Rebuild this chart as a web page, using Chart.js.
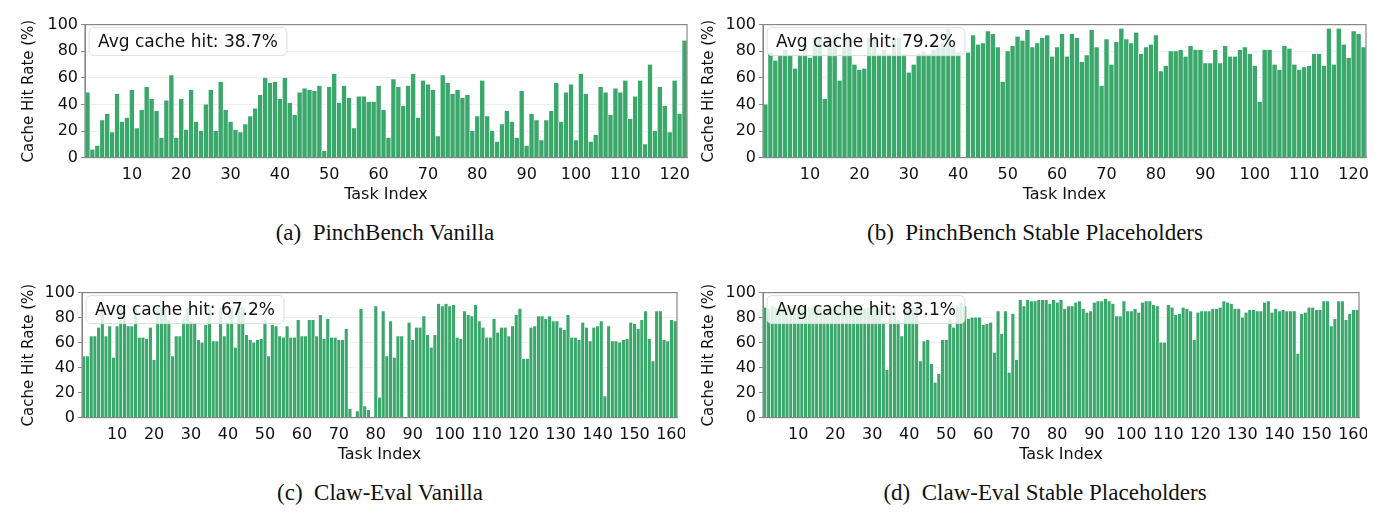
<!DOCTYPE html>
<html>
<head>
<meta charset="utf-8">
<script src="https://cdn.jsdelivr.net/npm/chart.js@4"></script>
<style>
  body { margin: 0; background: #fff; width: 1400px; height: 529px; position: relative; overflow: hidden; }
  .panel { position: absolute; }
  .cap { position: absolute; font-family: "Liberation Serif", "DejaVu Serif", serif; font-size: 23px; color: #111; text-align: center; white-space: nowrap; }
</style>
</head>
<body>
<div class="panel" style="left:20px;top:12px;width:675px;height:192px"><canvas id="a"></canvas></div>
<div class="panel" style="left:700px;top:12px;width:674px;height:192px"><canvas id="b"></canvas></div>
<div class="panel" style="left:20px;top:280px;width:665px;height:184px"><canvas id="c"></canvas></div>
<div class="panel" style="left:700px;top:280px;width:667px;height:184px"><canvas id="d"></canvas></div>
<div class="cap" style="left:185px;width:400px;top:220px">(a)&nbsp; PinchBench Vanilla</div>
<div class="cap" style="left:835px;width:400px;top:220px">(b)&nbsp; PinchBench Stable Placeholders</div>
<div class="cap" style="left:180px;width:400px;top:480px">(c)&nbsp; Claw-Eval Vanilla</div>
<div class="cap" style="left:845px;width:400px;top:480px">(d)&nbsp; Claw-Eval Stable Placeholders</div>
<script>
const yTicks = [0, 20, 40, 60, 80, 100];

const pinchVanilla = [
  49,6,9,28,33,19,48,27,30,51, 22,36,53,44,35,15,43,62,15,44,
  21,51,27,20,40,51,20,57,36,27, 21,19,25,31,37,47,60,56,57,44,
  60,41,32,49,52,51,50,54,5,53, 63,41,54,45,22,46,46,42,42,54,
  36,15,59,53,39,54,63,30,58,55, 51,16,62,56,48,51,45,47,20,31,
  58,31,20,12,25,35,27,15,50,9, 33,28,13,28,35,56,27,49,55,13,
  63,48,12,17,53,49,32,52,49,58, 29,46,58,10,70,20,53,39,19,58,
  33,88];
const pinchStable = [
  40,79,73,77,81,77,67,77,90,75, 90,90,44,90,90,58,90,90,70,66,
  67,90,90,78,81,78,90,90,78,64, 70,78,80,78,81,83,86,97,84,79,
  0,79,92,85,86,95,93,83,57,80, 84,91,88,96,83,86,90,92,76,83,
  93,76,93,90,72,77,96,83,54,89, 70,87,97,89,86,94,78,83,85,92,
  65,69,80,80,81,76,84,81,81,71, 71,81,71,84,76,76,81,83,78,69,
  42,81,81,70,66,84,82,70,66,68, 69,78,78,69,97,70,97,85,75,95,
  93,83];
const clawVanilla = [
  49,49,65,65,72,88,65,73,48,73, 88,88,73,73,88,64,64,63,72,46,
  88,88,88,78,49,65,65,79,88,77, 76,62,60,74,88,61,61,88,65,76,
  88,56,88,88,66,62,60,62,63,78, 49,74,73,65,64,73,64,64,78,65,
  65,78,78,65,82,63,79,64,64,62, 62,71,7,0,5,87,9,6,0,89,
  16,85,49,77,48,65,65,0,76,62, 72,72,81,66,56,66,91,89,91,89,
  90,64,63,85,82,81,90,77,72,64, 64,79,68,72,72,65,73,82,87,47,
  47,72,73,81,81,79,81,77,77,72, 70,82,64,64,62,76,72,61,72,73,
  77,17,73,61,61,60,62,63,76,75, 71,78,85,63,45,85,85,62,61,78,
  77];
const clawStable = [
  88,87,89,88,88,87,88,89,88,88, 87,88,88,89,88,88,87,88,88,89,
  88,88,87,88,89,88,88,87,88,88, 88,88,77,38,88,88,78,65,88,88,
  88,88,45,61,62,43,28,35,62,62, 79,72,89,92,89,79,80,80,80,74,
  75,76,52,85,67,85,36,83,46,94, 89,94,93,93,94,94,94,91,94,92,
  94,87,89,89,92,93,87,84,85,92, 93,93,95,93,91,81,81,93,85,85,
  87,84,92,93,93,90,89,60,60,90, 88,82,83,88,87,85,62,84,85,85,
  85,87,87,88,93,92,91,87,87,80, 84,86,86,85,85,92,93,84,87,85,
  86,85,85,85,51,83,84,88,88,86, 86,93,93,73,79,93,93,78,83,86,
  86];

const avgText = { a: "Avg cache hit: 38.7%", b: "Avg cache hit: 79.2%", c: "Avg cache hit: 67.2%", d: "Avg cache hit: 83.1%" };
const font = "'DejaVu Sans', sans-serif";
const green = "#3aa86b";

const frame = {
  id: "frame",
  afterDatasetsDraw(chart, args, opts) {
    const { ctx, chartArea: a } = chart;
    ctx.save();
    ctx.strokeStyle = "#888";
    ctx.lineWidth = 1.2;
    ctx.strokeRect(a.left, a.top, a.right - a.left, a.bottom - a.top);
    // legend-ish box with avg text
    ctx.font = "17px " + font;
    const w = ctx.measureText(opts.text).width + 18, h = 28;
    const x = a.left + 4, y = a.top + 3;
    ctx.beginPath();
    ctx.roundRect(x, y, w, h, 5);
    ctx.fillStyle = "rgba(255,255,255,0.82)";
    ctx.fill();
    ctx.strokeStyle = "#ddd";
    ctx.lineWidth = 1;
    ctx.stroke();
    ctx.fillStyle = "#111";
    ctx.textBaseline = "middle";
    ctx.fillText(opts.text, x + 9, y + h / 2 + 1);
    ctx.restore();
  }
};

function make(id, values, yWidth, padTop) {
  const labels = values.map((v, i) => String(i + 1));
  new Chart(document.getElementById(id), {
    type: "bar",
    data: { labels, datasets: [{ data: values, backgroundColor: green, borderColor: "rgba(255,255,255,0.85)", borderWidth: { left: 0.6, right: 0.6, top: 0 }, barPercentage: 1, categoryPercentage: 1 }] },
    plugins: [frame],
    options: {
      responsive: true, maintainAspectRatio: false, animation: false,
      layout: { padding: { top: padTop, right: 8 } },
      plugins: { legend: { display: false }, tooltip: { enabled: false }, frame: { text: avgText[id] } },
      scales: {
        x: {
          grid: { display: false }, border: { color: "#888" },
          ticks: { autoSkip: false, maxRotation: 0, padding: 0, color: "#111", font: { family: font, size: 16 },
            callback: (v, i) => ((i + 1) % 10 === 0 ? labels[i] : "") },
          title: { display: true, text: "Task Index", color: "#111", font: { family: font, size: 16 }, padding: { top: 0, bottom: 0 } },
        },
        y: {
          min: 0, max: 100, afterFit: (s) => { s.width = yWidth; },
          afterBuildTicks: (s) => { s.ticks = yTicks.map((v) => ({ value: v })); },
          grid: { color: "#eeeeee", drawTicks: true, tickLength: 4, tickColor: "#888" }, border: { color: "#888" },
          ticks: { color: "#111", font: { family: font, size: 16 }, padding: 3 },
          title: { display: true, text: "Cache Hit Rate (%)", color: "#111", font: { family: font, size: 15 }, padding: { top: 0, bottom: 2 } },
        },
      },
    },
  });
}

make("a", pinchVanilla, 65, 10);
make("b", pinchStable, 63, 10);
make("c", clawVanilla, 62, 10);
make("d", clawStable, 63, 10);
</script>
</body>
</html>
